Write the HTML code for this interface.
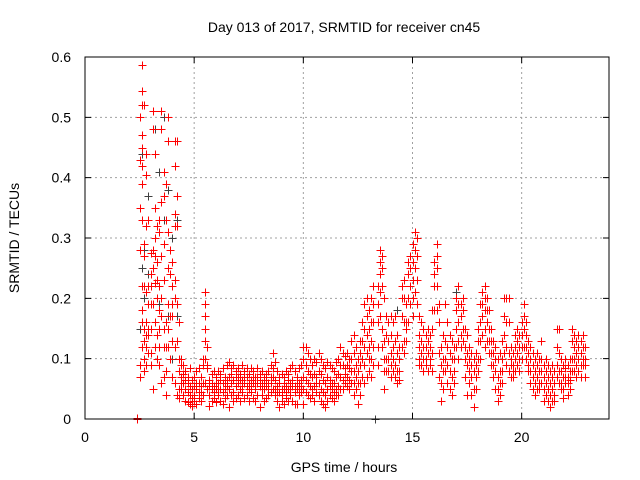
<!DOCTYPE html>
<html><head><meta charset="utf-8"><style>
html,body{margin:0;padding:0;background:#fff}
svg{display:block;font-family:"Liberation Sans",sans-serif}
</style></head><body>
<svg id="chart" width="640" height="480" viewBox="0 0 640 480">
<text x="344" y="32" font-size="14" text-anchor="middle" fill="#000">Day 013 of 2017, SRMTID for receiver cn45</text>
<text x="344" y="472" font-size="14" text-anchor="middle" fill="#000">GPS time / hours</text>
<text transform="translate(19,238) rotate(-90)" font-size="14" text-anchor="middle" fill="#000">SRMTID / TECUs</text>
<g id="grid"></g>
<g id="axes"></g>
<g id="black-series"></g>
<g id="red-series"></g>
<rect x="85" y="57" width="524" height="362" fill="none" stroke="#000" stroke-width="1"/>
</svg>
<script>
const xTicks=[0,5,10,15,20];
const yTicks=[0,0.1,0.2,0.3,0.4,0.5,0.6];
const yTickLabels=["0","0.1","0.2","0.3","0.4","0.5","0.6"];
const redTimes=[2.4,2.5,2.6,2.7,2.8,2.9,3.0,3.1,3.2,3.3,3.4,3.5,3.6,3.7,3.8,3.9,4.0,4.1,4.2,4.3,4.4,4.5,4.6,4.7,4.8,4.9,5.0,5.1,5.2,5.3,5.4,5.5,5.6,5.7,5.8,5.9,6.0,6.1,6.2,6.3,6.4,6.5,6.6,6.7,6.8,6.9,7.0,7.1,7.2,7.3,7.4,7.5,7.6,7.7,7.8,7.9,8.0,8.1,8.2,8.3,8.4,8.5,8.6,8.7,8.8,8.9,9.0,9.1,9.2,9.3,9.4,9.5,9.6,9.7,9.8,9.9,10.0,10.1,10.2,10.3,10.4,10.5,10.6,10.7,10.8,10.9,11.0,11.1,11.2,11.3,11.4,11.5,11.6,11.7,11.8,11.9,12.0,12.1,12.2,12.3,12.4,12.5,12.6,12.7,12.8,12.9,13.0,13.1,13.2,13.4,13.5,13.6,13.7,13.8,13.9,14.0,14.1,14.2,14.3,14.4,14.5,14.6,14.7,14.8,14.9,15.0,15.1,15.2,15.3,15.4,15.5,15.6,15.7,15.8,15.9,16.0,16.1,16.2,16.3,16.4,16.5,16.6,16.7,16.8,16.9,17.0,17.1,17.2,17.3,17.4,17.5,17.6,17.7,17.8,17.9,18.0,18.1,18.2,18.3,18.4,18.5,18.6,18.7,18.8,18.9,19.0,19.1,19.2,19.3,19.4,19.5,19.6,19.7,19.8,19.9,20.0,20.1,20.2,20.3,20.4,20.5,20.6,20.7,20.8,20.9,21.0,21.1,21.2,21.3,21.4,21.5,21.6,21.7,21.8,21.9,22.0,22.1,22.2,22.3,22.4,22.5,22.6,22.7,22.8,22.9];
const redValues=[
[0.0,0.002],[0.43,0.35,0.28,0.09,0.07,0.5],[0.587,0.544,0.52,0.47,0.45,0.42,0.39,0.33,0.22,0.18,0.16,0.12],[0.52,0.29,0.27,0.22,0.15,0.13,0.1,0.08],[0.44,0.405,0.32,0.21,0.16,0.14,0.12,0.09],[0.33,0.19,0.15,0.14,0.11,0.22],[0.24,0.22,0.19,0.15,0.11,0.09,0.275],[0.51,0.48,0.28,0.25,0.05,0.19],[0.44,0.35,0.3,0.27,0.16,0.12,0.225],[0.32,0.26,0.23,0.2,0.14,0.1],[0.33,0.31,0.22,0.18,0.15,0.12,0.09],[0.51,0.48,0.36,0.27,0.2,0.17,0.06],[0.41,0.37,0.29,0.23,0.15,0.07,0.12],[0.39,0.33,0.16,0.12,0.08,0.04],[0.5,0.46,0.31,0.25,0.19,0.15,0.12],[0.28,0.24,0.17,0.1],[0.26,0.22,0.17,0.13,0.07,0.19],[0.46,0.42,0.34,0.32,0.23,0.2,0.12,0.06],[0.46,0.37,0.32,0.19,0.13,0.04],[0.16,0.1,0.08,0.05,0.035],[0.09,0.07,0.06,0.05,0.1],
[0.09,0.06,0.04,0.075],[0.08,0.05,0.03,0.065],[0.07,0.045,0.028,0.06],[0.085,0.04,0.025,0.055],[0.065,0.035,0.022,0.05],[0.07,0.04,0.03,0.055],[0.08,0.05,0.025,0.06],[0.085,0.06,0.035,0.045],[0.07,0.045,0.03,0.055],[0.09,0.06,0.04,0.1],[0.21,0.19,0.17,0.15,0.13,0.1,0.06],[0.12,0.09,0.085,0.05],[0.065,0.04,0.022,0.055],[0.075,0.05,0.03,0.06],[0.08,0.055,0.035,0.045],[0.07,0.05,0.028,0.06],[0.08,0.06,0.04,0.05],[0.075,0.05,0.03,0.065],[0.085,0.06,0.025,0.045],[0.07,0.05,0.035,0.06],[0.09,0.065,0.04,0.055],[0.095,0.07,0.02,0.05],[0.085,0.06,0.04,0.075],[0.09,0.065,0.045,0.03],[0.08,0.055,0.035,0.07],[0.085,0.06,0.04,0.07],[0.075,0.05,0.03,0.065],[0.09,0.065,0.045,0.055],[0.08,0.06,0.035,0.07],[0.085,0.055,0.04,0.07],[0.075,0.06,0.03,0.05],[0.085,0.065,0.045,0.055],[0.08,0.06,0.035,0.07],[0.07,0.05,0.03,0.06],[0.085,0.06,0.04,0.07],[0.075,0.055,0.02,0.065],[0.08,0.06,0.04,0.05],[0.07,0.05,0.03,0.06],[0.075,0.055,0.035,0.065],[0.08,0.06,0.04,0.05],[0.09,0.07,0.045,0.06],[0.11,0.085,0.05,0.07],[0.095,0.065,0.04,0.05],[0.08,0.055,0.03,0.045],[0.07,0.045,0.02,0.06],[0.075,0.05,0.03,0.04],[0.07,0.05,0.025,0.06],[0.08,0.055,0.035,0.045],[0.075,0.05,0.03,0.065],[0.085,0.06,0.04,0.05],[0.09,0.065,0.03,0.055],[0.08,0.055,0.025,0.045],[0.07,0.05,0.025,0.06],[0.085,0.06,0.04,0.05],[0.09,0.065,0.045,0.055],[0.12,0.1,0.07,0.05,0.025],[0.12,0.09,0.065,0.045],[0.11,0.08,0.06,0.04],[0.1,0.075,0.055,0.035],[0.09,0.07,0.05,0.04],[0.1,0.075,0.055,0.03],[0.095,0.07,0.045,0.06],[0.11,0.08,0.06,0.04],[0.1,0.075,0.05,0.03],[0.09,0.065,0.045,0.025],[0.085,0.06,0.04,0.02],[0.095,0.07,0.05,0.03],[0.09,0.065,0.04,0.055],[0.085,0.06,0.035,0.05],[0.08,0.06,0.045,0.03],[0.095,0.07,0.05,0.04],[0.1,0.075,0.055,0.04],[0.12,0.09,0.07,0.05],[0.11,0.09,0.065,0.05],[0.105,0.085,0.06,0.075],[0.11,0.09,0.07,0.055],[0.1,0.085,0.065,0.05],[0.13,0.1,0.08,0.06],[0.14,0.11,0.08,0.06,0.04],[0.12,0.09,0.07,0.05],[0.1,0.08,0.06,0.025],[0.13,0.11,0.09,0.06,0.04],[0.16,0.13,0.1,0.07],[0.19,0.15,0.12,0.09,0.06],[0.2,0.17,0.14,0.11,0.07],[0.18,0.15,0.12,0.1,0.08],[0.2,0.16,0.13,0.1,0.07],[0.22,0.19,0.16,0.12,0.09],
[0.22,0.19,0.16,0.12,0.09],[0.28,0.26,0.24,0.21,0.17],[0.27,0.25,0.22,0.15,0.12],[0.2,0.13,0.1,0.08,0.05],[0.17,0.14,0.1,0.08],[0.16,0.13,0.1,0.08],[0.17,0.14,0.11,0.09,0.07],[0.16,0.12,0.1,0.08],[0.17,0.13,0.09,0.07],[0.14,0.11,0.08,0.06],[0.12,0.1,0.08,0.065],[0.22,0.2,0.17,0.12],[0.23,0.2,0.16,0.13,0.11],[0.19,0.16,0.15,0.13],[0.26,0.24,0.2,0.16],[0.27,0.25,0.22,0.19],[0.29,0.26,0.23,0.2,0.17],[0.31,0.28,0.25,0.21],[0.3,0.27,0.23,0.19],[0.17,0.14,0.12,0.1,0.09],[0.16,0.13,0.11,0.09],[0.15,0.12,0.1,0.08],[0.14,0.12,0.1,0.09],[0.15,0.13,0.11,0.08],[0.14,0.12,0.1,0.09],[0.18,0.15,0.11,0.08],[0.26,0.24,0.22,0.18],[0.29,0.27,0.25,0.22,0.18],[0.19,0.16,0.11,0.07],[0.12,0.09,0.06,0.03],[0.14,0.1,0.08,0.05],[0.19,0.13,0.1,0.08],[0.16,0.12,0.09,0.06],[0.14,0.11,0.08,0.05],[0.13,0.1,0.07,0.04],[0.12,0.1,0.08,0.06],[0.2,0.18,0.15,0.12],[0.22,0.19,0.16,0.13,0.1],[0.19,0.17,0.14,0.12],[0.2,0.18,0.15,0.13],[0.15,0.12,0.1,0.07],[0.14,0.11,0.09,0.04],[0.12,0.1,0.08,0.06],[0.11,0.09,0.07,0.04],[0.1,0.08,0.05,0.02],[0.11,0.09,0.07,0.05],[0.15,0.13,0.1,0.08],[0.19,0.16,0.13,0.1],[0.21,0.19,0.17,0.14],[0.22,0.2,0.18,0.15,0.12],[0.2,0.18,0.16,0.13],[0.18,0.15,0.13,0.11],[0.15,0.13,0.11,0.09],[0.13,0.11,0.09,0.07],[0.12,0.1,0.08,0.05],[0.1,0.07,0.05,0.03],[0.11,0.08,0.06,0.04],[0.13,0.1,0.08,0.06],[0.2,0.17,0.14,0.11],[0.2,0.16,0.12,0.09],[0.2,0.16,0.11,0.08],[0.12,0.1,0.09,0.07],[0.11,0.09,0.08,0.07],[0.14,0.12,0.1,0.08],[0.15,0.13,0.11,0.09],[0.14,0.12,0.1,0.08],[0.16,0.14,0.12,0.1],[0.19,0.17,0.15,0.12],[0.16,0.14,0.12,0.1],[0.13,0.11,0.09,0.08],[0.12,0.1,0.08,0.06],[0.11,0.09,0.07,0.05],[0.1,0.08,0.06,0.04],[0.11,0.09,0.07,0.05],[0.1,0.08,0.06,0.05],[0.13,0.1,0.08,0.06],[0.09,0.07,0.05,0.03],[0.1,0.08,0.06,0.04],[0.09,0.07,0.05,0.03],[0.08,0.06,0.04,0.02],[0.09,0.07,0.05,0.03],[0.08,0.06,0.04,0.03],[0.15,0.12,0.09,0.07],[0.15,0.11,0.08,0.06],[0.1,0.08,0.06,0.05],[0.09,0.07,0.05,0.035],[0.1,0.085,0.07,0.06],[0.09,0.07,0.06,0.04],[0.1,0.08,0.065,0.05],[0.15,0.13,0.1,0.08],[0.14,0.12,0.1,0.08],[0.13,0.11,0.09,0.07],[0.14,0.12,0.1,0.08],[0.13,0.11,0.09,0.07],[0.14,0.12,0.1,0.09],[0.12,0.1,0.09,0.07]];
const blackTimes=[2.5,2.6,2.7,2.9,3.2,3.4,3.6,3.8,4.0,4.2,12.4,13.3,14.3,15.1,17.0,18.4];
const blackValues=[[0.43,0.15,0.07],[0.47,0.44,0.25],[0.28,0.2],[0.37,0.24],[0.48,0.3],[0.41,0.19],[0.5,0.33],[0.38,0.17],[0.3,0.1],[0.33,0.17],[0.09],[0.0],[0.18],[0.31],[0.21],[0.2]];
const NS="http://www.w3.org/2000/svg";
const L=85,R=609,T=57,B=419,XMAX=24,YMAX=0.6;
function xs(v){return L+(R-L)*v/XMAX;}
function ys(v){return B-(B-T)*v/YMAX;}
function mk(tag,attrs,parent){const e=document.createElementNS(NS,tag);for(const k in attrs)e.setAttribute(k,attrs[k]);parent.appendChild(e);return e;}
const grid=document.getElementById('grid'),axes=document.getElementById('axes');
xTicks.forEach(t=>{
  const x=xs(t);
  if(t>0){const g=mk('line',{x1:x,x2:x,y1:T,y2:B,stroke:'#a0a0a0','stroke-dasharray':'2,3','stroke-width':1},grid);
  
  }
  const tk=mk('path',{d:`M${x},${B}v-6M${x},${T}v6`,stroke:'#000'},axes);
  
  
  const lb=mk('text',{x:x,y:442,'font-size':14,'text-anchor':'middle',fill:'#000'},axes);
  lb.textContent=String(t);
  
  
});
yTicks.forEach((t,i)=>{
  const y=ys(t);
  if(t>0&&t<YMAX){const g=mk('line',{x1:L,x2:R,y1:y,y2:y,stroke:'#a0a0a0','stroke-dasharray':'2,3','stroke-width':1},grid);
  
  }
  const tk=mk('path',{d:`M${L},${y}h6M${R},${y}h-6`,stroke:'#000'},axes);
  
  
  const lb=mk('text',{x:71,y:y+5,'font-size':14,'text-anchor':'end',fill:'#000'},axes);
  lb.textContent=yTickLabels[i];
  
  
});
function plot(times,values,color,gid,name){
  const g=document.getElementById(gid);
  const n=Math.min(times.length,values.length);
  for(let i=0;i<n;i++){
    let d='';
    (values[i]||[]).forEach(v=>{const x=Math.round(xs(times[i]))+0.5,y=Math.round(ys(v))+0.5;d+=`M${x-4},${y}h8M${x},${y-4}v8`;});
    const p=mk('path',{d:d,stroke:color,'stroke-width':1,fill:'none'},g);
    
    
  }
}
plot(blackTimes,blackValues,'#404040','black-series','black-points');
plot(redTimes,redValues,'#ff0000','red-series','red-points');
</script>
</body></html>
